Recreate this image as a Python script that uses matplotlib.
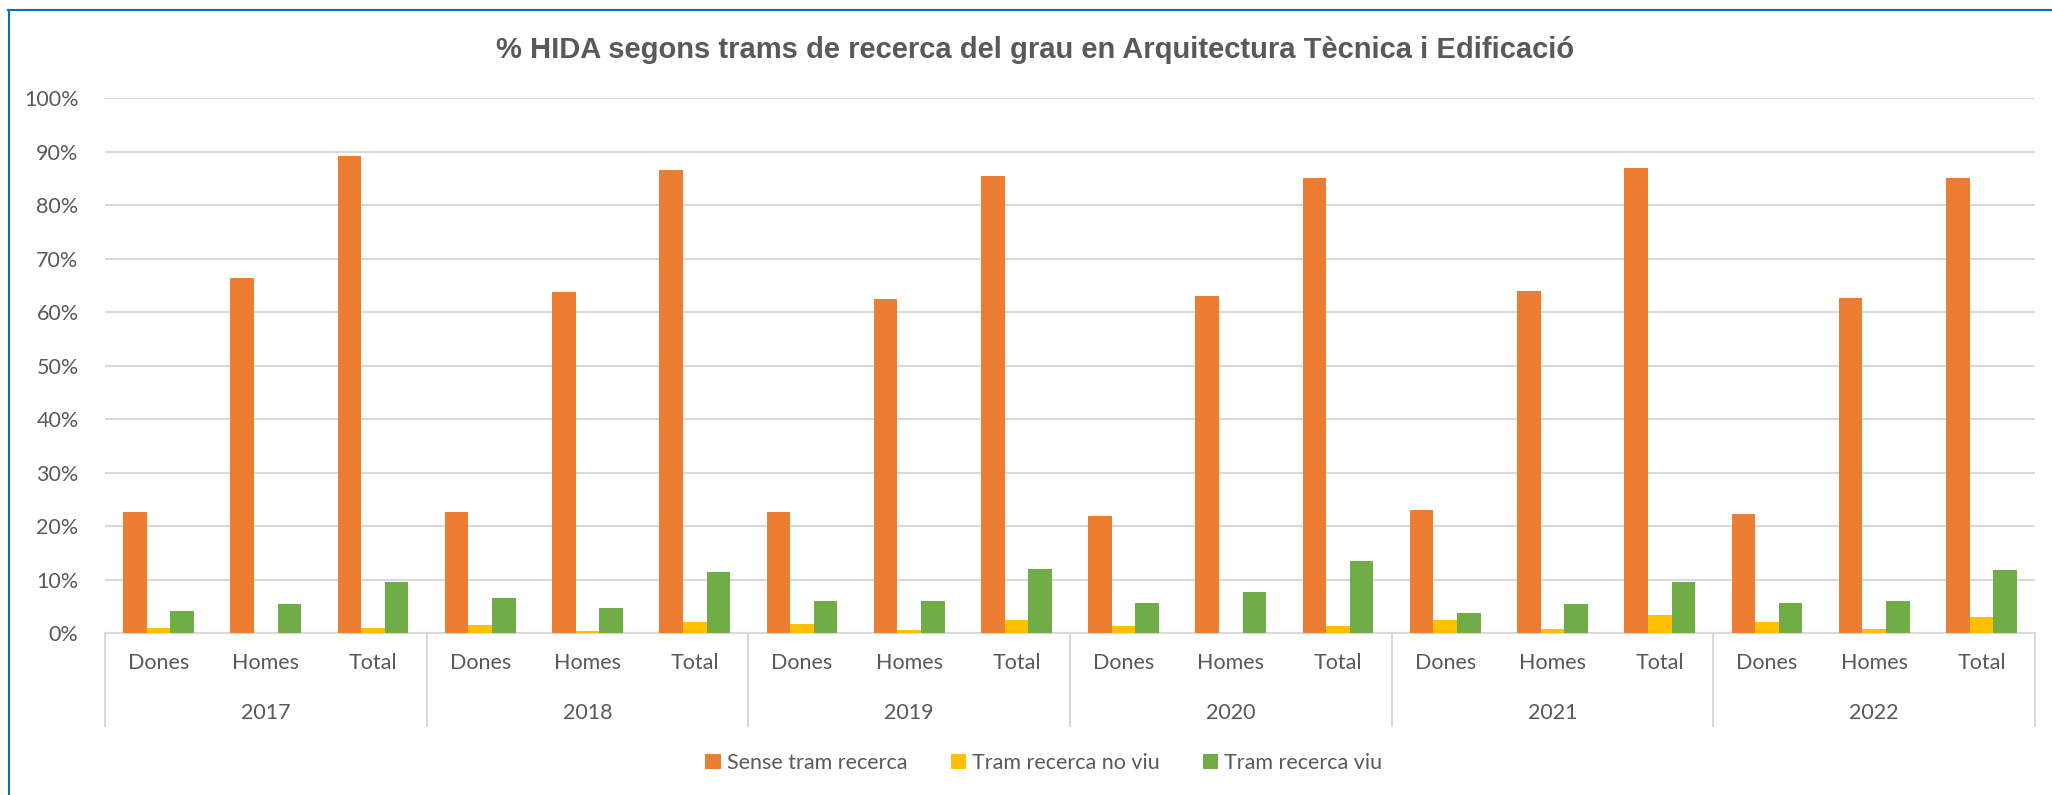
import matplotlib
matplotlib.use("Agg")
import matplotlib.pyplot as plt
from matplotlib.lines import Line2D
import numpy as np

# DATA
years = ["2017", "2018", "2019", "2020", "2021", "2022"]
groups = ["Dones", "Homes", "Total"]
series_names = ["Sense tram recerca", "Tram recerca no viu", "Tram recerca viu"]

sense_tram = [22.6, 66.4, 89.1,
              22.6, 63.8, 86.5,
              22.7, 62.5, 85.4,
              21.8, 63.0, 85.0,
              22.9, 63.9, 87.0,
              22.3, 62.7, 85.0]
no_viu = [1.0, 0.0, 1.0,
          1.5, 0.3, 2.0,
          1.6, 0.6, 2.4,
          1.4, 0.0, 1.4,
          2.4, 0.7, 3.3,
          2.1, 0.7, 3.0]
viu = [4.2, 5.4, 9.6,
       6.5, 4.6, 11.4,
       5.9, 5.9, 12.0,
       5.7, 7.6, 13.4,
       3.8, 5.5, 9.5,
       5.7, 5.9, 11.7]

colors = ["#ED7D31", "#FFC000", "#70AD47"]
TEXT = "#595959"
GRID = "#D9D9D9"
FS = 15.5

W, H = 2052, 795
fig = plt.figure(figsize=(W / 100, H / 100), dpi=100)
plt.rcParams['font.family'] = ['Lato', 'DejaVu Sans']

ax = fig.add_axes([105 / W, 1 - 633 / H, (2035 - 105) / W, (633 - 98) / H])

n = len(years) * len(groups)
x = np.arange(n)
bw = 0.22
for k, (vals, c, name) in enumerate(zip([sense_tram, no_viu, viu], colors, series_names)):
    ax.bar(x + (k - 1) * bw, vals, width=bw, color=c, label=name, zorder=3)

ax.set_xlim(-0.5, n - 0.5)
ax.set_ylim(0, 100)
ax.set_yticks(np.arange(0, 101, 10))
ax.set_yticklabels([f"{v}%" for v in range(0, 101, 10)], fontsize=FS, color=TEXT)
ax.tick_params(axis='y', length=0, pad=19)
ax.set_xticks([])
ax.grid(axis='y', color=GRID, linewidth=1.5, zorder=0)
for s in ["top", "right", "left"]:
    ax.spines[s].set_visible(False)
ax.spines["bottom"].set_color(GRID)
ax.spines["bottom"].set_linewidth(1.5)

# multi-level category axis
tr = ax.get_xaxis_transform()
for i in range(n):
    ax.text(i, -0.056, groups[i % 3], transform=tr, ha='center', va='center',
            fontsize=FS, color=TEXT)
for j, yr in enumerate(years):
    ax.text(j * 3 + 1, -0.150, yr, transform=tr, ha='center', va='center',
            fontsize=FS, color=TEXT)
for j in range(len(years) + 1):
    ax.plot([j * 3 - 0.5] * 2, [0, -0.174], transform=tr, color=GRID,
            linewidth=1.5, clip_on=False)

fig.text(1035 / W, 1 - 50 / H, "% HIDA segons trams de recerca del grau en Arquitectura Tècnica i Edificació",
         ha='center', va='center', fontsize=21, fontweight='bold', color=TEXT,
         family=['Liberation Sans Narrow', 'Liberation Sans', 'DejaVu Sans'])

leg = fig.legend(loc='center', bbox_to_anchor=(1044 / W, 1 - 763 / H), ncol=3, frameon=False,
                 fontsize=FS, handlelength=0.7, handleheight=0.7, handletextpad=0.3,
                 columnspacing=2.0)
for t in leg.get_texts():
    t.set_color(TEXT)

# chart border (top and left)
fig.add_artist(Line2D([8 / W, 1], [1 - 10 / H] * 2, color="#0070C0", linewidth=1.5))
fig.add_artist(Line2D([9 / W] * 2, [0, 1 - 10 / H], color="#0070C0", linewidth=1.5))

fig.savefig("out.png", dpi=100)
